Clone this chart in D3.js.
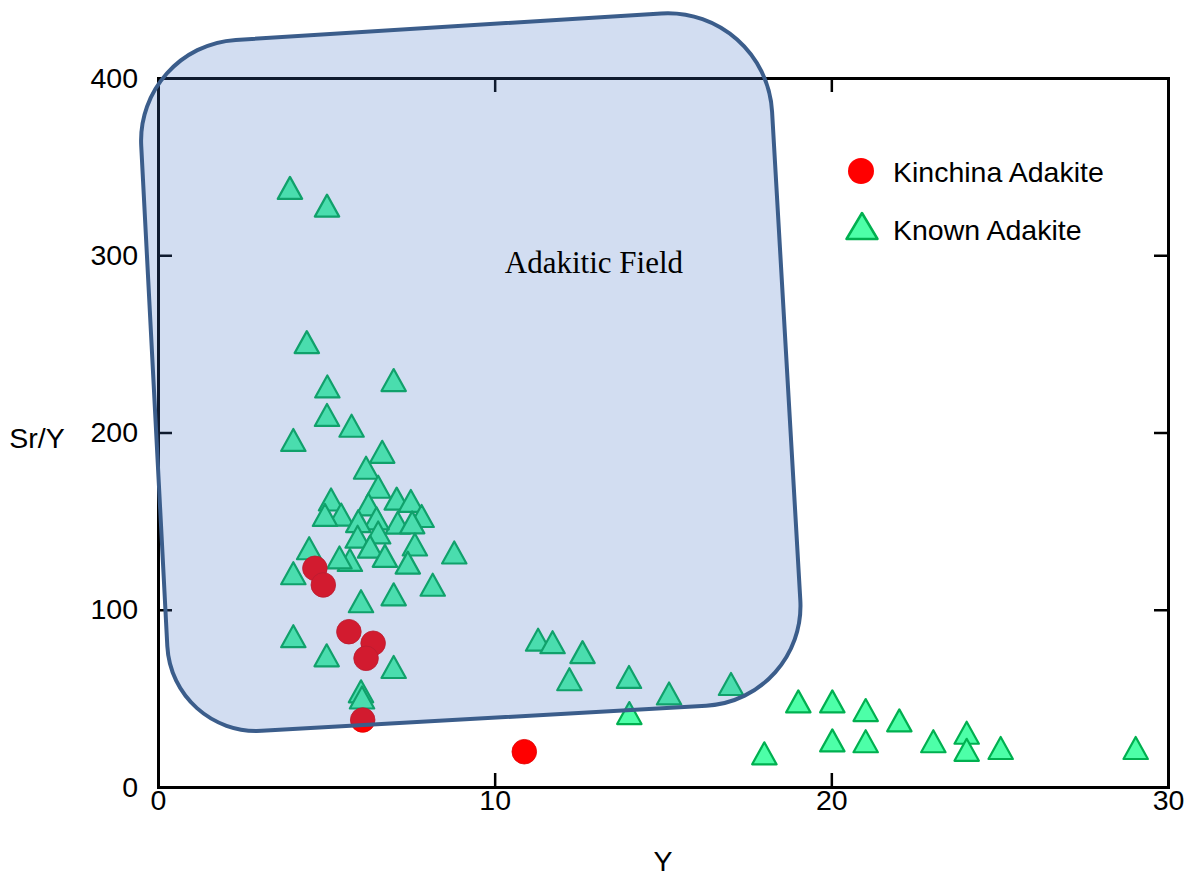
<!DOCTYPE html>
<html>
<head>
<meta charset="utf-8">
<script src="https://cdn.jsdelivr.net/npm/d3@7/dist/d3.min.js"></script>
<style>
  html, body { margin: 0; padding: 0; background: #ffffff; }
  svg { display: block; }
  text { font-family: "Liberation Sans", Arial, sans-serif; fill: #000; }
</style>
</head>
<body>
<svg id="chart" width="1195" height="879"></svg>
<script>
// Sr/Y versus Y discrimination diagram
const xTicks = [0, 10, 20, 30];
const yTicks = [0, 100, 200, 300, 400];

// Kinchina adakite samples
const kinchinaY   = [4.66, 4.91, 5.67, 6.39, 6.18, 6.08, 10.88];
const kinchinaSrY = [123.4, 114.0, 87.6, 81.1, 72.6, 37.8, 19.9];

// Published (known) adakite compositions
const knownY = [
  3.92, 5.02,
  4.42, 7.00, 5.03, 5.02, 5.75, 4.02, 6.66, 6.18,
  6.54, 5.14, 7.09, 7.51, 6.25, 5.44, 4.96, 7.83, 7.12, 6.49, 5.95, 7.55,
  5.93, 6.54, 6.30, 7.63, 8.80, 4.49, 5.70, 5.39, 6.74, 7.42,
  4.02, 6.03, 7.00, 8.16, 4.02, 5.01, 7.00, 6.03, 6.06,
  11.29, 11.72, 12.61, 12.22, 13.99, 14.00, 15.18, 17.02,
  18.01, 19.02, 20.03, 21.02, 22.02, 20.03, 21.02, 23.03, 24.02, 24.02, 25.03, 29.04
];
const knownSrY = [
  338, 328,
  251, 229.6, 226, 209.9, 203.8, 195.8, 189.1, 180.1,
  169.4, 162.2, 162.7, 161.4, 159.4, 153.7, 153.5, 152.9, 149.1, 151.6, 150.0, 149.3,
  141.2, 143.6, 135.6, 136.8, 132.3, 134.7, 128.1, 129.5, 130.4, 126.6,
  120.6, 104.8, 108.7, 114.1, 85.1, 74.3, 67.7, 54.0, 50.5,
  83.1, 81.7, 76.1, 60.8, 62.1, 41.7, 52.8, 58.1,
  19.0, 48.3, 48.3, 43.4, 37.6, 26.3, 25.8, 25.8, 30.6, 21.0, 22.0, 22.0
];

// Adakitic field outline: corner vertices (Y, Sr/Y), rounded when drawn
const fieldY   = [-0.653, 18.06, 19.25, 0.416];
const fieldSrY = [418.0, 440.1, 49.1, 28.8];
const fieldLabel = { text: "Adakitic Field", y: 12.95, sry: 290 };

const seriesNames = ["Kinchina Adakite", "Known Adakite"];

// ---- layout ----
const svg = d3.select("#chart");
const plotLeft = 158, plotRight = 1168, plotTop = 78, plotBottom = 787;

const x = d3.scaleLinear().domain([0, 30]).range([plotLeft, plotRight]);
const y = d3.scaleLinear().domain([0, 400]).range([plotBottom, plotTop]);

const tickLen = 14;
const axisColor = "#000";
const labelFont = '"Liberation Sans", Arial, sans-serif';

// frame with inward ticks on all four sides
const gAxes = svg.append("g");
const bottomAxis = d3.axisBottom(x).tickValues(xTicks).tickSize(-tickLen).tickPadding(7).tickFormat(d3.format("d"));
const topAxis = d3.axisTop(x).tickValues(xTicks).tickSize(-tickLen).tickFormat("");
const leftAxis = d3.axisLeft(y).tickValues(yTicks).tickSize(-tickLen).tickPadding(20).tickFormat(d3.format("d"));
const rightAxis = d3.axisRight(y).tickValues(yTicks).tickSize(-tickLen).tickFormat("");

function styleAxis(g) {
  g.selectAll("path.domain").attr("stroke", axisColor).attr("stroke-width", 3);
  g.selectAll(".tick line").attr("stroke", axisColor).attr("stroke-width", 2.5);
  g.selectAll(".tick text")
    .style("font-family", labelFont)
    .style("font-size", "28.5px").attr("fill", "#000");
}

gAxes.append("g").attr("transform", `translate(0,${plotBottom})`).call(bottomAxis).call(styleAxis)
  .call(g => g.selectAll(".tick text").attr("dy", "0.55em"));
gAxes.append("g").attr("transform", `translate(0,${plotTop})`).call(topAxis).call(styleAxis);
gAxes.append("g").attr("transform", `translate(${plotLeft},0)`).call(leftAxis).call(styleAxis);
gAxes.append("g").attr("transform", `translate(${plotRight},0)`).call(rightAxis).call(styleAxis);

// remove ticks that sit on the frame corners
gAxes.selectAll(".tick").filter(d => d === 0 || d === 30 || d === 400).select("line").remove();

// axis titles
svg.append("text").attr("x", 663).attr("y", 871).attr("text-anchor", "middle")
  .style("font-size", "28.5px").text("Y");
svg.append("text").attr("x", 37).attr("y", 438).attr("text-anchor", "middle")
  .attr("dominant-baseline", "central").style("font-size", "28.5px").text("Sr/Y");

// ---- markers ----
const triHalfW = 12.2, triH = 22;
function trianglePath(cx, cy, hw, h) {
  return `M${cx},${cy - h / 2}L${cx + hw},${cy + h / 2}L${cx - hw},${cy + h / 2}Z`;
}
const triFill = "#4dffa8", triStroke = "#00b050";
const dotFill = "#ff0000";

const known = knownY.map((v, i) => ({ y: v, sry: knownSrY[i] }));
const kinchina = kinchinaY.map((v, i) => ({ y: v, sry: kinchinaSrY[i] }));

svg.append("g").selectAll("path").data(known).join("path")
  .attr("d", d => trianglePath(x(d.y), y(d.sry), triHalfW, triH))
  .attr("fill", triFill).attr("stroke", triStroke).attr("stroke-width", 2.2)
  .attr("stroke-linejoin", "round");

svg.append("g").selectAll("circle").data(kinchina).join("circle")
  .attr("cx", d => x(d.y)).attr("cy", d => y(d.sry)).attr("r", 12.3)
  .attr("fill", dotFill).attr("stroke", "#e00000").attr("stroke-width", 0.8);

// ---- adakitic field (translucent overlay drawn above the points) ----
const corners = fieldY.map((v, i) => [x(v), y(fieldSrY[i])]);
const radii = [100, 105, 100, 90];
const k = 0.5523;
function lerp(a, b, t) { return [a[0] + (b[0] - a[0]) * t, a[1] + (b[1] - a[1]) * t]; }
function along(c, p, r) {
  const dx = p[0] - c[0], dy = p[1] - c[1], len = Math.hypot(dx, dy);
  return [c[0] + dx * r / len, c[1] + dy * r / len];
}
const n = corners.length;
const pts = corners.map((c, i) => {
  const prev = corners[(i - 1 + n) % n], next = corners[(i + 1) % n];
  return { c, a: along(c, prev, radii[i]), b: along(c, next, radii[i]) };
});
const path = d3.path();
path.moveTo(pts[0].b[0], pts[0].b[1]);
for (let j = 1; j <= n; j++) {
  const p = pts[j % n];
  path.lineTo(p.a[0], p.a[1]);
  const c1 = lerp(p.a, p.c, k), c2 = lerp(p.b, p.c, k);
  path.bezierCurveTo(c1[0], c1[1], c2[0], c2[1], p.b[0], p.b[1]);
}
path.closePath();

svg.append("path").attr("d", path.toString())
  .attr("fill", "#4472c4").attr("fill-opacity", 0.24)
  .attr("stroke", "#3b5d8b").attr("stroke-width", 4);

svg.append("text")
  .attr("x", x(fieldLabel.y)).attr("y", y(fieldLabel.sry))
  .attr("text-anchor", "middle")
  .style("font-family", '"Liberation Serif", "Times New Roman", serif')
  .style("font-size", "31px").text(fieldLabel.text);

// ---- legend ----
const legend = svg.append("g");
legend.append("circle").attr("cx", 861).attr("cy", 171).attr("r", 13).attr("fill", dotFill);
legend.append("text").attr("x", 893).attr("y", 182).style("font-size", "28.5px").text(seriesNames[0]);
legend.append("path").attr("d", trianglePath(862, 226, 15.5, 26))
  .attr("fill", triFill).attr("stroke", triStroke).attr("stroke-width", 2.5).attr("stroke-linejoin", "round");
legend.append("text").attr("x", 893).attr("y", 240).style("font-size", "28.5px").text(seriesNames[1]);
</script>
</body>
</html>
